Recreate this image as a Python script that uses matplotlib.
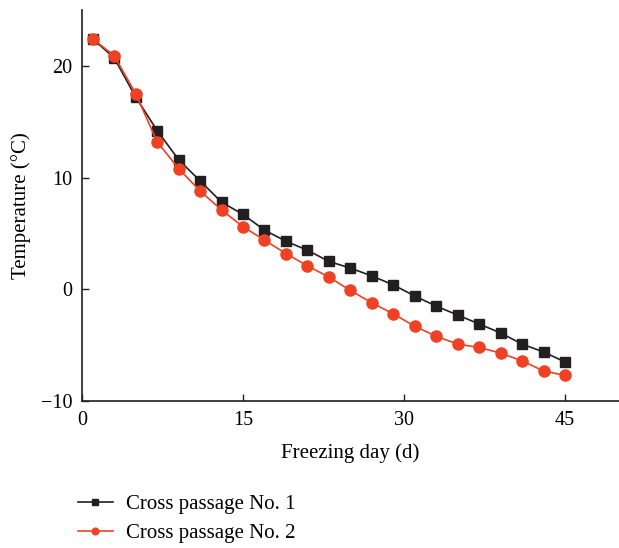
import matplotlib
matplotlib.use("Agg")
import matplotlib.pyplot as plt

days = [1, 3, 5, 7, 9, 11, 13, 15, 17, 19, 21, 23, 25, 27, 29, 31, 33, 35, 37, 39, 41, 43, 45]
passage1 = [22.4, 20.7, 17.2, 14.2, 11.6, 9.7, 7.8, 6.7, 5.3, 4.3, 3.5, 2.5, 1.9, 1.2, 0.4,
            -0.6, -1.5, -2.3, -3.1, -3.9, -4.9, -5.6, -6.5]
passage2 = [22.4, 20.9, 17.5, 13.2, 10.8, 8.8, 7.1, 5.6, 4.4, 3.2, 2.1, 1.1, -0.1, -1.2, -2.2,
            -3.3, -4.2, -4.9, -5.2, -5.7, -6.4, -7.3, -7.7]
labels = ["Cross passage No. 1", "Cross passage No. 2"]
xticks = [0, 15, 30, 45]
yticks = [-10, 0, 10, 20]

plt.rcParams['font.family'] = ['Liberation Serif', 'DejaVu Serif']
fig = plt.figure(figsize=(6.19, 5.48), dpi=100)
ax = fig.add_axes([0.1325, 0.268, 0.867, 0.714])

black = '#231f20'
red = '#ef4123'
ax.plot(days, passage1, color=black, marker='s', markersize=7.5, linewidth=1.2, label=labels[0])
ax.plot(days, passage2, color=red, marker='o', markersize=8, linewidth=1.2, label=labels[1])

ax.set_xlim(0, 50)
ax.set_ylim(-10, 25)
ax.set_xticks(xticks)
ax.set_yticks(yticks)
ax.set_yticklabels(['\u221210', '0', '10', '20'])
ax.tick_params(direction='in', labelsize=14.5, length=5, width=1, color=black, pad=7)
for s in ['top', 'right']:
    ax.spines[s].set_visible(False)
for s in ['left', 'bottom']:
    ax.spines[s].set_linewidth(1.2)
    ax.spines[s].set_color(black)

ax.set_xlabel('Freezing day (d)', fontsize=15, labelpad=10)
ax.set_ylabel('Temperature (\u00b0C)', fontsize=15, labelpad=7)

fig.legend(loc='upper left', bbox_to_anchor=(0.112, 0.113), frameon=False, fontsize=15,
           handlelength=1.7, handletextpad=0.6, labelspacing=0.45, borderaxespad=0,
           markerscale=0.6)

fig.savefig('out.png', dpi=100)
